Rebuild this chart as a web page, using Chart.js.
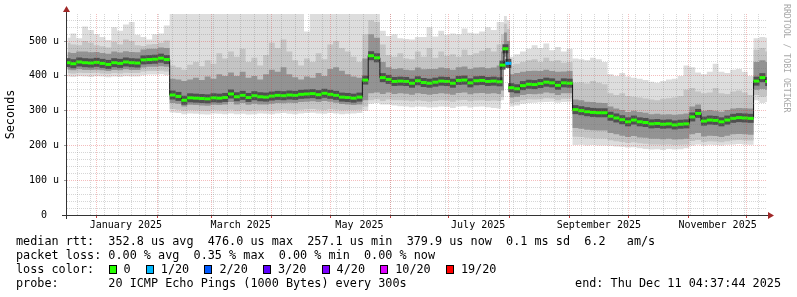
<!DOCTYPE html>
<html><head><meta charset="utf-8">
<script src="https://cdn.jsdelivr.net/npm/chart.js@4/dist/chart.umd.min.js"></script>
<style>
html,body{margin:0;padding:0;background:#fff;}
#wrap{position:relative;width:797px;height:297px;overflow:hidden;font-family:'DejaVu Sans Mono',monospace;background:#fff;}
#c{position:absolute;left:0;top:0;}
.t{position:absolute;font-size:11.8px;line-height:14px;white-space:pre;color:#000;}
.box{position:absolute;width:8px;height:9px;box-sizing:border-box;border:1px solid #000;}
#wm{position:absolute;left:782px;top:4px;writing-mode:vertical-rl;font-size:8.2px;line-height:10px;color:#a8a8a8;white-space:pre;}
</style></head>
<body><div id="wrap">
<canvas id="c" width="797" height="297" style="width:797px;height:297px"></canvas>
<div id="wm">RRDTOOL / TOBI OETIKER</div>
<div class="t" style="left:16px;top:234px">median rtt:  352.8 us avg  476.0 us max  257.1 us min  379.9 us now  0.1 ms sd  6.2   am/s</div>
<div class="t" style="left:16px;top:248px">packet loss: 0.00 % avg  0.35 % max  0.00 % min  0.00 % now</div>
<div class="t" style="left:16px;top:262px">loss color:</div>
<div class="t" style="left:16px;top:276px">probe:       20 ICMP Echo Pings (1000 Bytes) every 300s</div>
<div class="t" style="right:16px;top:276px;text-align:right">end: Thu Dec 11 04:37:44 2025</div>
</div>
<script>
// time axis: days since 1 Jan 2025 (column centres)
const days = [-15,-12,-9,-6,-3,0,3,6,9,12,15,18,21,24,27,30,33,36,
39,42,45,48,51,54,57,60,63,66,69,72,75,78,81,84,87,90,93,96,99,102,105,108,111,114,117,120,123,126,129,132,135,
138,141,144,147,
150,153,156,159,162,165,168,171,174,177,180,183,186,189,192,195,198,201,204,207,
208.5,210,211.5,
213,216,219,222,225,228,231,234,237,240,243,
246,249,252,255,258,261,264,267,270,273,276,279,282,285,288,291,294,297,300,303,306,309,312,315,318,321,324,327,330,333,336,
339,342,345];

// median RTT (microseconds)
const medianRtt = [438,435,440,438,437,439,436,433,438,436,440,438,437,446,447,448,451,447,
345,341,330,337,336,335,334,337,336,338,348,340,344,338,343,340,339,342,344,343,345,344,347,348,349,346,350,347,344,339,338,336,339,
388,458,452,395,
390,384,385,384,379,386,381,379,382,385,384,379,387,388,380,386,387,384,385,383,
431,478,436,
366,363,372,376,375,378,382,380,373,380,379,
303,300,297,295,294,294,284,279,274,268,273,268,266,262,263,261,262,259,261,262,282,292,270,273,272,268,273,278,280,279,278,
385,395,384];

// smoke envelope (microseconds)
const smokeMin = [398,397,399,398,397,399,398,396,398,397,399,398,398,402,404,404,405,402,
295,293,290,292,291,290,289,292,291,290,292,290,291,289,290,292,291,290,292,293,291,290,292,293,294,292,291,293,292,290,291,292,293,
300,320,322,318,
318,315,313,312,310,312,311,309,310,312,311,308,312,313,309,311,312,310,308,306,
330,430,420,
312,315,320,322,323,324,325,326,323,325,326,
201,202,200,201,200,200,199,197,196,194,195,192,190,188,189,187,190,188,189,192,200,203,200,202,201,200,202,203,204,203,202,
330,322,325];

const smokeLo2 = [408,407,409,408,408,409,407,406,408,407,409,408,408,413,414,414,415,413,
305,303,300,302,301,300,299,302,301,300,303,300,302,299,301,302,301,300,302,303,302,301,303,304,305,303,302,304,303,301,302,302,303,
312,330,333,328,
332,330,330,329,327,330,328,326,328,330,329,326,330,331,327,329,330,328,329,328,
340,440,426,
322,325,330,333,332,333,336,335,330,334,335,
225,224,222,221,220,220,215,212,210,207,209,206,205,203,203,202,203,201,202,203,213,216,210,212,211,209,212,215,216,215,214,
345,340,342];

const smokeLo1 = [418,416,419,417,417,418,416,414,417,416,419,417,417,424,426,426,428,426,
322,320,312,317,316,315,314,317,316,318,325,318,322,317,320,318,318,320,322,321,323,322,325,326,327,325,328,326,323,319,318,316,318,
330,350,352,348,
352,348,350,349,346,350,348,346,348,350,349,346,351,352,347,350,351,349,350,348,
358,455,432,
338,340,345,348,347,349,352,350,345,350,350,
250,248,245,244,243,243,236,232,228,224,227,223,222,219,219,218,219,217,218,219,232,236,226,228,227,224,228,232,233,232,231,
360,362,360];

const smokeHi1 = [468,466,470,470,468,469,466,464,470,467,471,469,468,476,478,478,482,480,
392,390,385,390,395,388,398,392,405,400,410,400,412,395,400,390,405,418,412,425,405,396,390,398,395,408,400,420,425,415,405,398,395,
450,520,510,440,
425,420,422,418,416,424,419,420,420,424,422,418,425,427,420,424,425,422,424,430,
470,525,500,
405,408,412,414,415,414,418,414,412,413,414,
332,330,326,325,323,322,312,306,302,296,300,296,294,290,291,289,290,288,290,292,312,318,300,302,300,297,302,306,308,307,306,
440,445,440];

const smokeHi2 = [495,490,488,500,495,488,485,482,498,490,505,500,488,486,490,492,495,502,
430,425,418,432,440,428,445,435,465,450,470,455,478,440,452,430,460,495,480,505,470,445,430,450,440,465,448,490,500,480,470,455,440,
520,560,555,490,
460,455,465,450,448,470,455,480,452,470,458,462,455,475,460,465,472,480,470,490,
520,550,535,
430,435,440,445,448,440,452,442,445,438,440,
380,382,378,385,380,376,350,345,350,342,340,338,335,332,330,334,336,338,342,360,365,355,350,352,365,350,348,355,358,352,345,
475,480,470];

const smokeMax = [510,522,508,542,532,520,512,503,540,530,548,555,518,512,505,520,522,545,
578,578,578,578,578,578,578,578,578,578,578,578,578,578,578,578,578,578,578,578,578,578,578,528,578,578,578,578,578,578,578,578,578,
578,578,578,530,
515,520,508,506,505,512,512,540,513,530,518,522,520,536,524,522,528,540,532,555,
555,572,560,
455,462,470,478,488,480,493,474,483,470,478,
450,448,445,452,448,440,405,400,408,398,395,392,388,383,380,385,390,392,400,430,425,410,405,412,435,412,408,418,420,412,400,
508,512,510];

// packet loss events (pings lost of 20)
const lossDays = [211.5];
const lossCounts = [1];

// axis definitions
const monthStarts = [0,31,59,90,120,151,181,212,243,273,304,334];
const labelDays = [15,74,135,196,258,319];
const labelTexts = ['January 2025','March 2025','May 2025','July 2025','September 2025','November 2025'];
const yTicks = [0,100,200,300,400,500];
const lossLabels = ['0','1/20','2/20','3/20','4/20','10/20','19/20'];
const lossThresh = [0,1,2,3,4,10,19];
const lossColors = ['#26ff00','#00b8ff','#0059ff','#5e00ff','#7e00ff','#dd00ff','#ff0000'];

const X_MIN = -15.26, X_MAX = 344.4, Y_MAX = 578;
const GRID_MINOR = 'rgba(120,120,120,0.3)';
const GRID_MAJOR = 'rgba(220,50,50,0.32)';
const MONO = 'DejaVu Sans Mono';

// legend boxes
const wrap = document.getElementById('wrap');
let lx = 108.5;
lossLabels.forEach((lab, j) => {
  const b = document.createElement('div');
  b.className = 'box'; b.style.left = lx + 'px'; b.style.top = '265px'; b.style.background = lossColors[j];
  wrap.appendChild(b);
  const t = document.createElement('div');
  t.className = 't'; t.style.left = (lx + 15) + 'px'; t.style.top = '262px'; t.textContent = lab;
  wrap.appendChild(t);
  lx += 30.2 + lab.length * 7.1;
});

function pts(arr) { return days.map((d, i) => ({x: d, y: arr[i]})); }
function lossColor(i) {
  const k = lossDays.indexOf(days[i]);
  const n = k >= 0 ? lossCounts[k] : 0;
  let c = 0;
  lossThresh.forEach((t, j) => { if (n >= t) c = j; });
  return lossColors[c];
}
function band(arr, color, fillNext) {
  return {data: pts(arr), stepped: 'middle', borderWidth: 0, pointRadius: 0,
    fill: fillNext ? '+1' : false, backgroundColor: color || 'rgba(0,0,0,0)'};
}

const weekly = [];
for (let d = -10; d <= X_MAX; d += 7) weekly.push(d);
const yMinor = [];
for (let v = 20; v < Y_MAX; v += 20) if (v % 100 !== 0) yMinor.push(v);

const axesPlugin = {
  id: 'rrdAxes',
  afterDraw(chart) {
    const {ctx, chartArea: a} = chart;
    ctx.save();
    ctx.strokeStyle = '#333'; ctx.lineWidth = 1;
    ctx.beginPath();
    ctx.moveTo(62, a.bottom + 0.5); ctx.lineTo(a.right + 2, a.bottom + 0.5);
    ctx.moveTo(a.left - 0.5, a.bottom + 4); ctx.lineTo(a.left - 0.5, a.top - 3);
    ctx.stroke();
    ctx.fillStyle = '#a02828';
    ctx.beginPath();
    ctx.moveTo(a.right + 1, a.bottom - 3); ctx.lineTo(a.right + 7, a.bottom + 0.5); ctx.lineTo(a.right + 1, a.bottom + 4); ctx.closePath(); ctx.fill();
    ctx.beginPath();
    ctx.moveTo(a.left - 4, a.top - 2); ctx.lineTo(a.left - 0.5, a.top - 8); ctx.lineTo(a.left + 3, a.top - 2); ctx.closePath(); ctx.fill();
    ctx.restore();
  }
};

new Chart(document.getElementById('c'), {
  type: 'line',
  data: {datasets: [
    {label: 'median', data: pts(medianRtt), showLine: false, pointStyle: 'line', pointRadius: 3,
      pointBorderWidth: 3, pointBorderColor: c => lossColor(c.dataIndex), pointBackgroundColor: c => lossColor(c.dataIndex)},
    {label: 'median line', data: pts(medianRtt), stepped: 'middle', borderColor: '#151515', borderWidth: 1, pointRadius: 0, fill: false},
    {label: 'median smoke', data: pts(medianRtt), showLine: false, pointStyle: 'line', pointRadius: 3,
      pointBorderWidth: 9, pointBorderColor: '#505050', pointBackgroundColor: '#505050'},
    band(smokeHi1, '#939393', true), band(smokeLo1),
    band(smokeHi2, '#c4c4c4', true), band(smokeLo2),
    band(smokeMax, '#dddddd', true), band(smokeMin)
  ]},
  options: {
    responsive: false, animation: false, devicePixelRatio: 1, events: [],
    layout: {padding: {left: 0, right: 30, top: 14, bottom: 62}},
    plugins: {legend: {display: false}, tooltip: {enabled: false}},
    scales: {
      x: {type: 'linear', position: 'bottom', min: X_MIN, max: X_MAX,
        afterBuildTicks: s => { s.ticks = weekly.map(v => ({value: v})); },
        afterFit: s => { s.height = 0; },
        ticks: {display: false},
        grid: {color: GRID_MINOR, lineWidth: 1, drawTicks: false, z: 1, borderDash: [1, 1]},
        border: {display: false, dash: [1, 1]}},
      xm: {type: 'linear', position: 'bottom', min: X_MIN, max: X_MAX,
        afterBuildTicks: s => { s.ticks = monthStarts.map(v => ({value: v})); },
        afterFit: s => { s.height = 0; },
        ticks: {display: false},
        grid: {color: GRID_MAJOR, lineWidth: 1, drawTicks: true, tickLength: 3, tickColor: '#c04040', z: 1, borderDash: [1, 1]},
        border: {display: false, dash: [1, 1]}},
      xl: {type: 'linear', position: 'bottom', min: X_MIN, max: X_MAX,
        afterBuildTicks: s => { s.ticks = labelDays.map(v => ({value: v})); },
        afterFit: s => { s.height = 20; },
        ticks: {autoSkip: false, maxRotation: 0, minRotation: 0, padding: 4, color: '#000',
          font: {family: MONO, size: 10},
          callback: v => { const k = labelDays.indexOf(v); return k >= 0 ? labelTexts[k] : ''; }},
        grid: {display: false, drawTicks: false},
        border: {display: false}},
      y: {type: 'linear', position: 'left', min: 0, max: Y_MAX,
        afterBuildTicks: s => { s.ticks = yTicks.map(v => ({value: v})); },
        afterFit: s => { s.width = 67; },
        ticks: {padding: 5, color: '#000', font: {family: MONO, size: 10},
          callback: v => v === 0 ? '0  ' : v + ' u'},
        grid: {color: GRID_MAJOR, lineWidth: 1, tickLength: 3, tickColor: '#999', z: 1, borderDash: [1, 1]},
        border: {display: false, dash: [1, 1]},
        title: {display: true, text: 'Seconds', color: '#000', font: {family: MONO, size: 11.8}, padding: {top: 4, bottom: 0}}},
      y2: {type: 'linear', position: 'left', min: 0, max: Y_MAX,
        afterBuildTicks: s => { s.ticks = yMinor.map(v => ({value: v})); },
        afterFit: s => { s.width = 0; },
        ticks: {display: false},
        grid: {color: GRID_MINOR, lineWidth: 1, drawTicks: false, z: 1, borderDash: [1, 1]},
        border: {display: false, dash: [1, 1]}}
    }
  },
  plugins: [axesPlugin]
});
</script>
</body></html>
